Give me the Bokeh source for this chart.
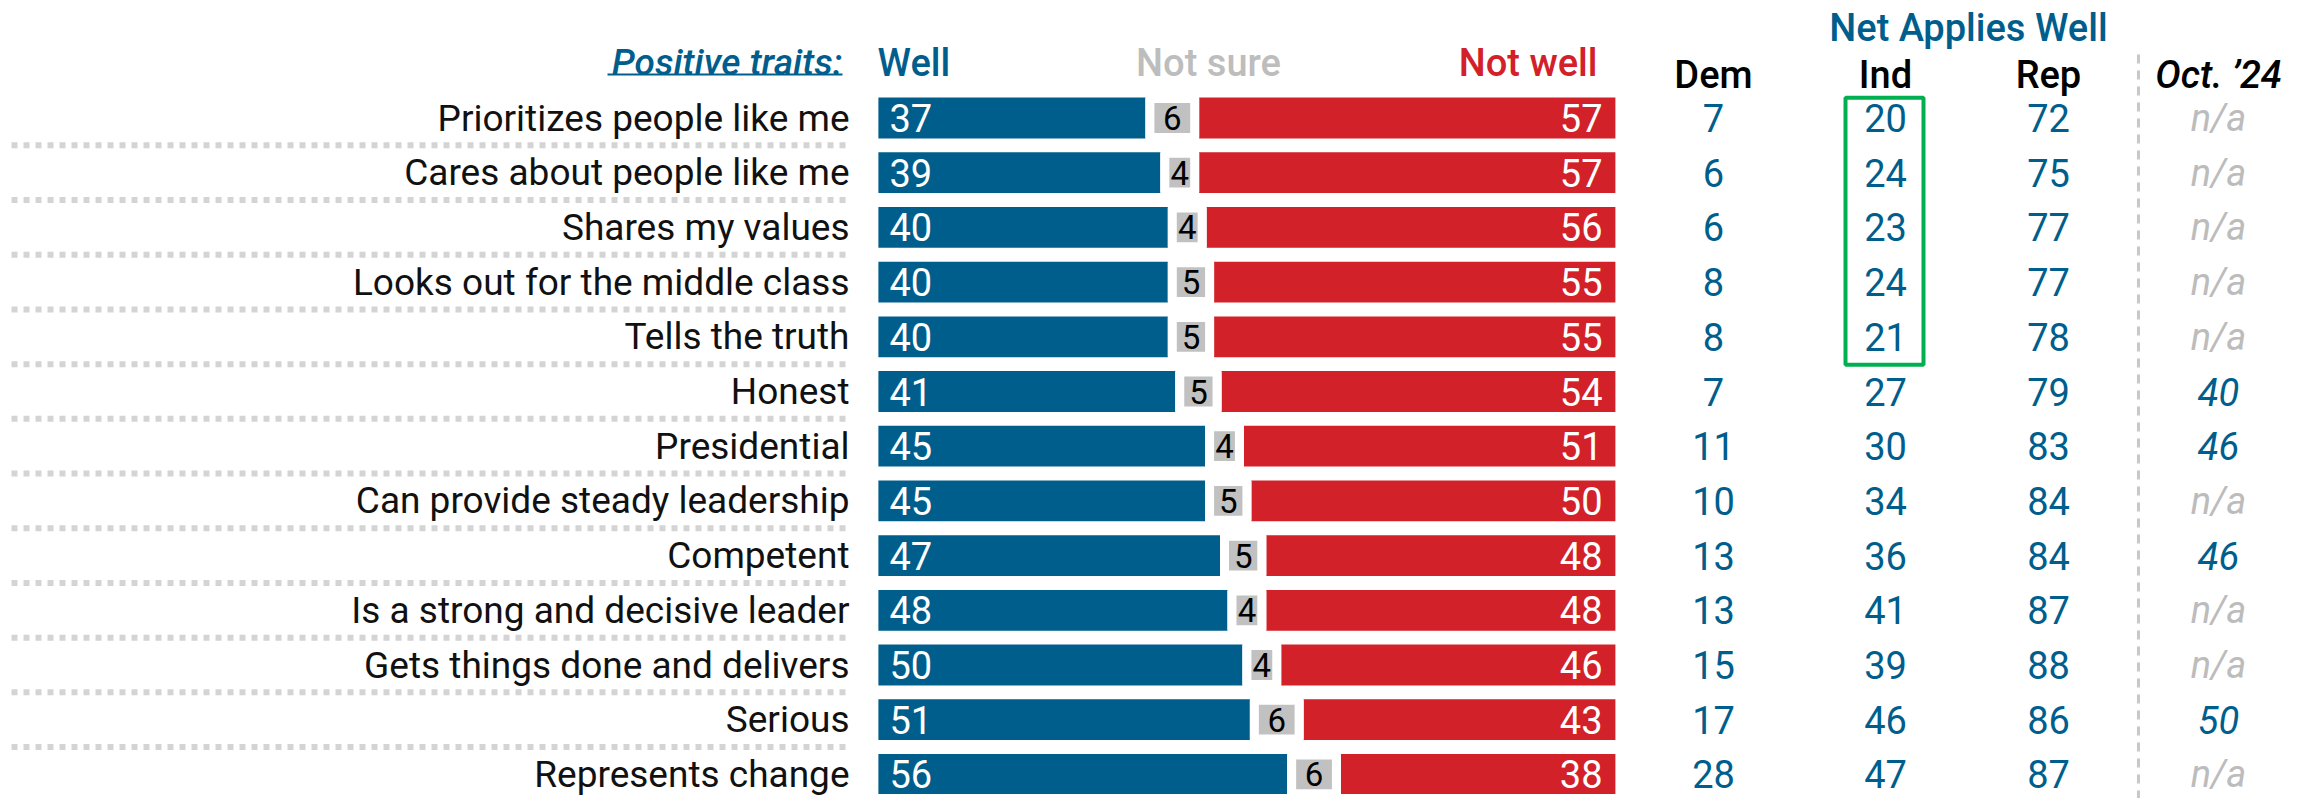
from bokeh.plotting import figure
from bokeh.models import Range1d, ColumnDataSource
from bokeh.core.properties import value
from bokeh.embed import file_html
from bokeh.resources import INLINE

# ---------------- data ----------------
labels = ["Prioritizes people like me", "Cares about people like me", "Shares my values",
          "Looks out for the middle class", "Tells the truth", "Honest", "Presidential",
          "Can provide steady leadership", "Competent", "Is a strong and decisive leader",
          "Gets things done and delivers", "Serious", "Represents change"]
well = [37, 39, 40, 40, 40, 41, 45, 45, 47, 48, 50, 51, 56]
not_sure = [6, 4, 4, 5, 5, 5, 4, 5, 5, 4, 4, 6, 6]
not_well = [57, 57, 56, 55, 55, 54, 51, 50, 48, 48, 46, 43, 38]
dem = [7, 6, 6, 8, 8, 7, 11, 10, 13, 13, 15, 17, 28]
ind = [20, 24, 23, 24, 21, 27, 30, 34, 36, 41, 39, 46, 47]
rep = [72, 75, 77, 77, 78, 79, 83, 84, 84, 87, 88, 86, 87]
oct24 = [None, None, None, None, None, 40, 46, None, 46, None, None, 50, None]
highlight_rows = [0, 1, 2, 3, 4]
table_cols = ["Dem", "Ind", "Rep", "Oct. \u201924"]
bar_heads = ["Well", "Not sure", "Not well"]

# ---------------- layout / style ----------------
W, H = 2315, 798
X0, S = 873.4, 7.46          # pixel of 0% and pixels per %
Y0, RS = 117.5, 54.7         # pixel of first row centre and row spacing
OFF = 0


def px(X):
    return (X - X0) / S


def py(Y):
    return (Y - Y0) / RS


BLUE = "#005e8d"
RED = "#d22129"
GRAY = "#c1c1c1"
GREEN = "#00b050"
FONT = value("Roboto")
FONT_M = value("'Roboto Medium', Roboto")
LBL = value("37px")
NUM = value("38px")

p = figure(width=W, height=H, output_backend="svg", toolbar_location=None,
           x_range=Range1d(px(OFF), px(OFF + W)),
           y_range=Range1d(py(OFF + H), py(OFF)),
           min_border=0, outline_line_color=None)
p.xaxis.visible = False
p.yaxis.visible = False
p.grid.visible = False
p.background_fill_color = "white"
p.border_fill_color = "white"

n = len(labels)
rows = list(range(n))
left_ns = [w for w in well]
right_ns = [w + s for w, s in zip(well, not_sure)]
src = ColumnDataSource(dict(
    y=rows, label=labels, well=well, ns=not_sure, nw=not_well,
    ns_l=left_ns, ns_r=right_ns, ns_c=[(a + b) / 2 for a, b in zip(left_ns, right_ns)],
    zero=[0] * n, hundred=[100] * n,
    well_t=[str(v) for v in well], ns_t=[str(v) for v in not_sure], nw_t=[str(v) for v in not_well],
    dem_t=[str(v) for v in dem], ind_t=[str(v) for v in ind], rep_t=[str(v) for v in rep],
    oct_t=["n/a" if v is None else str(v) for v in oct24],
    oct_c=["#bcbcbc" if v is None else BLUE for v in oct24],
))

# separators between rows
sep_y = [r + 0.5 for r in rows[:-1]]
p.segment(x0=[px(11)] * len(sep_y), x1=[px(846)] * len(sep_y), y0=sep_y, y1=sep_y,
          line_color="#d4d4d4", line_width=6, line_dash="6 6")

# bars
p.hbar(y="y", left="zero", right="well", height=0.91, source=src,
       fill_color=BLUE, line_color="white", line_width=9)
p.hbar(y="y", left="ns_r", right="hundred", height=0.91, source=src,
       fill_color=RED, line_color="white", line_width=9)
p.hbar(y="y", left="ns_l", right="ns_r", height=0.71, source=src,
       fill_color=GRAY, line_color="white", line_width=9)

# bar value labels
p.text(x=px(889), y="y", text="well_t", source=src, text_color="white",
       text_font=FONT, text_font_size=NUM, text_align="left", text_baseline="middle")
p.text(x="ns_c", y="y", text="ns_t", source=src, text_color="black",
       text_font=FONT, text_font_size=value("33px"), text_align="center", text_baseline="middle")
p.text(x=px(1602), y="y", text="nw_t", source=src, text_color="white",
       text_font=FONT, text_font_size=NUM, text_align="right", text_baseline="middle")

# row labels
p.text(x=px(849), y="y", text="label", source=src, text_color="#111111",
       text_font=FONT, text_font_size=LBL, text_align="right", text_baseline="middle")

# headers over bars
hy = py(62)
p.text(x=[px(842)], y=[hy], text=["Positive traits:"], text_color=BLUE, text_font=FONT_M,
       text_font_size=value("37px"), text_font_style="italic", text_align="right",
       text_baseline="middle")
p.segment(x0=[px(607)], x1=[px(842)], y0=[py(74)], y1=[py(74)], line_color=BLUE, line_width=2)
p.text(x=[px(877), px(1208), px(1597)], y=[hy] * 3, text=bar_heads,
       text_color=[BLUE, "#bdbdbd", RED], text_font=FONT_M, text_font_size=NUM,
       text_align=["left", "center", "right"], text_baseline="middle")

# table
cx = [px(1713), px(1885), px(2048), px(2218)]
for c, col in zip(cx[:3], ["dem_t", "ind_t", "rep_t"]):
    p.text(x=c, y="y", text=col, source=src, text_color=BLUE, text_font=FONT,
           text_font_size=NUM, text_align="center", text_baseline="middle")
p.text(x=cx[3], y="y", text="oct_t", source=src, text_color="oct_c", text_font=FONT,
       text_font_size=NUM, text_font_style="italic", text_align="center",
       text_baseline="middle")

p.text(x=cx[:3], y=[py(74)] * 3, text=table_cols[:3], text_color="black", text_font=FONT_M,
       text_font_size=NUM, text_align="center", text_baseline="middle")
p.text(x=[cx[3]], y=[py(74)], text=[table_cols[3]], text_color="black", text_font=FONT_M,
       text_font_size=NUM, text_font_style="italic", text_align="center",
       text_baseline="middle")
p.text(x=[cx[1] + px(1968) - px(1885)], y=[py(27)], text=["Net Applies Well"], text_color=BLUE,
       text_font=FONT_M, text_font_size=NUM, text_align="center", text_baseline="middle")

# dashed divider
p.segment(x0=[px(2138)], x1=[px(2138)], y0=[py(54)], y1=[py(800)],
          line_color="#c8c8c8", line_width=3, line_dash="9 7")

# highlight box around Ind rows
hb_top = min(highlight_rows) - 0.37
hb_bot = max(highlight_rows) + 0.51
p.quad(left=[cx[1] - px(1885) + px(1845)], right=[cx[1] - px(1885) + px(1923)],
       top=[hb_top], bottom=[hb_bot], fill_color=None, line_color=GREEN, line_width=4)

open("out.html", "w").write(file_html(p, INLINE))
